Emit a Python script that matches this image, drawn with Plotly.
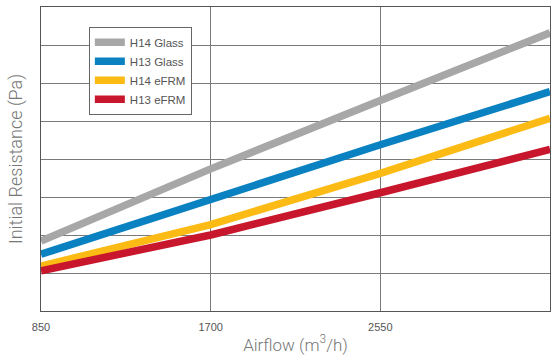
import plotly.graph_objects as go

airflow = [850, 1700, 2550, 3400]
h14_glass = [46, 93.5, 138.5, 183]
h13_glass = [37.3, 73.5, 109.4, 144.3]
h14_efrm = [29.6, 56.8, 90.6, 126.8]
h13_efrm = [26.5, 50, 77.8, 106.4]

series = [
    ("H14 Glass", h14_glass, "#A7A7A7"),
    ("H13 Glass", h13_glass, "#0A82C2"),
    ("H14 eFRM", h14_efrm, "#FCBB14"),
    ("H13 eFRM", h13_efrm, "#C8172C"),
]

fig = go.Figure()
for name, vals, color in series:
    fig.add_trace(go.Scatter(
        x=airflow, y=vals, name=name, mode="lines",
        line=dict(color=color, width=7.5),
        cliponaxis=False,
    ))

fig.update_layout(
    width=559, height=359,
    margin=dict(l=41, r=9, t=7, b=48),
    paper_bgcolor="white", plot_bgcolor="white",
    font=dict(family="Roboto", color="#555555", size=11),
    showlegend=True,
    legend=dict(
        x=0.094, y=0.935, xanchor="left", yanchor="top",
        bgcolor="white", bordercolor="#666666", borderwidth=1,
        font=dict(size=11.5, color="#555555", family="Liberation Sans"),
        itemwidth=30, tracegroupgap=0,
    ),
    xaxis=dict(
        range=[850, 3400], tickvals=[850, 1700, 2550, 3400],
        ticktext=["850", "1700", "2550", "3400"],
        showgrid=True, gridcolor="#7a7a7a", gridwidth=1,
        showline=True, linecolor="#555555", linewidth=1, mirror=True,
        ticks="", zeroline=False, ticklabelstandoff=6,
        tickfont=dict(size=11, color="#555555", family="Liberation Sans"),
        title=dict(text="Airflow (m<sup>3</sup>/h)", standoff=6,
                   font=dict(size=17, color="#777777", family="Roboto", weight=300)),
    ),
    yaxis=dict(
        range=[0, 200], dtick=25,
        showgrid=True, gridcolor="#7a7a7a", gridwidth=1,
        showline=True, linecolor="#555555", linewidth=1, mirror=True,
        showticklabels=False, ticks="", zeroline=False,
        title=dict(text="Initial Resistance (Pa)", standoff=12,
                   font=dict(size=18, color="#777777", family="Roboto", weight=300)),
    ),
)

fig.write_html(
    "out.html",
    config={"displayModeBar": False},
    post_script="document.body.style.margin='0';document.body.style.overflow='hidden';",
)
